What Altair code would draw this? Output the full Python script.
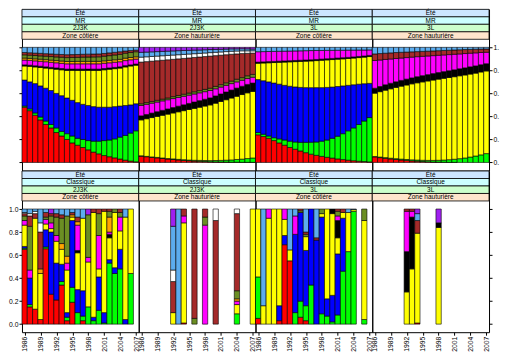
import altair as alt
import pandas as pd

YEARS = list(range(1986, 2008))
CATS = ["R", "G", "B", "Y", "K", "M", "O", "V", "N", "W", "L", "P"]
COLORS = {"R": "#FF0000", "G": "#00FF00", "B": "#0000FF", "Y": "#FFFF00",
          "K": "#000000", "M": "#FF00FF", "O": "#FFA500", "V": "#6B8E23",
          "N": "#A52A2A", "W": "#FFFFFF", "L": "#5CACEE", "P": "#A020F0"}

# ---- top row (MR): cumulative tops per category, one value per year 1986..2007
TOP_2J3K_COT = {
    "R": [.48,.45,.41,.37,.33,.30,.26,.23,.20,.17,.15,.13,.11,.09,.075,.06,.05,.04,.03,.02,.012,.006],
    "G": [.49,.465,.43,.395,.36,.33,.30,.27,.25,.23,.21,.20,.19,.185,.185,.19,.195,.205,.22,.235,.255,.275],
    "B": [.716,.70,.685,.665,.645,.625,.60,.58,.56,.54,.52,.505,.495,.485,.48,.48,.48,.485,.49,.495,.50,.51],
    "Y": [.838,.835,.83,.825,.82,.815,.81,.805,.80,.80,.80,.80,.80,.80,.80,.805,.81,.815,.82,.83,.838,.845],
    "K": [.848,.845,.84,.836,.831,.826,.821,.816,.811,.811,.811,.811,.811,.811,.811,.816,.821,.826,.831,.841,.848,.855],
    "M": [.89,.887,.883,.879,.875,.87,.866,.861,.857,.857,.857,.857,.857,.857,.857,.862,.866,.871,.875,.885,.892,.898],
    "O": [.907,.904,.90,.897,.893,.889,.885,.881,.877,.877,.878,.878,.878,.878,.878,.883,.887,.892,.896,.906,.912,.918],
    "V": [.935,.932,.929,.926,.923,.92,.917,.914,.911,.912,.913,.915,.916,.917,.918,.923,.928,.934,.939,.949,.955,.962],
    "N": [.955,.953,.950,.948,.945,.943,.940,.938,.936,.937,.938,.940,.941,.942,.943,.947,.952,.957,.962,.968,.972,.976],
    "L": [1.0]*22,
}
TOP_2J3K_HAU = {
    "R": [.055,.05,.045,.04,.035,.03,.026,.022,.018,.015,.012,.01,.008,.006,.005,.004,.003,.002,.002,.001,.001,.001],
    "G": [.058,.053,.048,.044,.039,.034,.031,.027,.024,.021,.019,.018,.017,.016,.017,.018,.02,.022,.026,.029,.034,.039],
    "Y": [.37,.38,.39,.40,.41,.42,.43,.44,.45,.46,.47,.48,.49,.50,.515,.53,.545,.56,.575,.59,.605,.617],
    "K": [.405,.417,.429,.441,.453,.465,.477,.489,.501,.513,.525,.537,.549,.561,.578,.595,.612,.629,.646,.662,.678,.69],
    "M": [.495,.505,.515,.525,.535,.545,.555,.565,.575,.585,.595,.605,.615,.625,.64,.655,.67,.685,.70,.714,.729,.74],
    "V": [.51,.52,.53,.54,.55,.56,.572,.582,.593,.603,.614,.624,.635,.645,.661,.676,.692,.707,.723,.737,.753,.765],
    "N": [.872,.876,.880,.884,.888,.892,.896,.900,.904,.908,.912,.916,.920,.924,.928,.932,.936,.940,.943,.946,.948,.95],
    "W": [.915,.918,.921,.924,.927,.93,.933,.936,.939,.942,.945,.948,.951,.954,.957,.96,.963,.966,.968,.97,.97,.97],
    "L": [.957,.959,.961,.963,.965,.967,.969,.971,.973,.974,.976,.977,.979,.981,.982,.983,.985,.987,.987,.988,.987,.985],
    "P": [1.0]*22,
}
TOP_3L_COT = {
    "R": [.24,.225,.21,.19,.17,.15,.13,.115,.10,.085,.072,.062,.053,.045,.038,.031,.025,.02,.015,.011,.008,.005],
    "G": [.26,.245,.23,.215,.205,.195,.185,.178,.175,.175,.176,.178,.185,.195,.21,.228,.25,.275,.30,.33,.36,.39],
    "B": [.72,.71,.70,.69,.68,.67,.662,.656,.652,.65,.65,.65,.65,.652,.655,.66,.665,.67,.675,.68,.684,.687],
    "Y": [.862,.864,.866,.868,.87,.872,.874,.876,.878,.88,.882,.885,.888,.891,.894,.897,.90,.903,.907,.911,.915,.92],
    "K": [.872,.874,.876,.878,.88,.882,.884,.886,.888,.89,.892,.895,.898,.901,.904,.907,.91,.913,.917,.921,.925,.93],
    "M": [.962,.963,.964,.965,.966,.967,.968,.969,.97,.971,.972,.973,.973,.974,.974,.975,.975,.976,.976,.977,.977,.978],
    "L": [1.0]*22,
}
TOP_3L_HAU = {
    "R": [.048,.042,.036,.031,.026,.022,.018,.014,.011,.008,.006,.004,.003,.002,.001,.001,0,0,0,0,0,0],
    "G": [.052,.047,.042,.037,.033,.029,.026,.023,.021,.019,.018,.018,.019,.021,.024,.028,.033,.039,.047,.056,.066,.077],
    "Y": [.602,.615,.628,.64,.652,.663,.673,.683,.692,.70,.708,.716,.724,.731,.738,.745,.753,.76,.768,.776,.786,.795],
    "K": [.645,.66,.675,.688,.701,.713,.724,.735,.745,.754,.763,.772,.781,.789,.797,.805,.814,.822,.831,.839,.849,.858],
    "M": [.886,.89,.895,.899,.903,.907,.911,.915,.919,.922,.925,.928,.931,.934,.937,.94,.943,.946,.949,.952,.955,.957],
    "N": [.943,.946,.949,.952,.955,.957,.959,.961,.963,.965,.967,.969,.971,.973,.975,.977,.979,.981,.982,.984,.985,.986],
    "L": [1.0]*22,
}

# ---- bottom row (Classique): per year, (category, cumulative top)
BOT_2J3K_COT = {
    1986: [("R",.65),("G",.66),("B",.675),("Y",.86),("M",.90),("V",.94),("N",.96),("W",.97),("L",1.0)],
    1987: [("R",.15),("G",.17),("B",.40),("M",.47),("V",.85),("N",.94),("W",.96),("L",1.0)],
    1988: [("R",.13),("Y",.92),("N",.96),("W",.98),("L",1.0)],
    1989: [("R",.04),("Y",.44),("O",.48),("N",.80),("W",.88),("L",1.0)],
    1990: [("R",.655),("G",.67),("B",.82),("Y",.87),("M",.91),("V",.93),("N",.97),("L",1.0)],
    1991: [("R",.26),("B",.80),("Y",.83),("M",.88),("V",.94),("N",.96),("P",1.0)],
    1992: [("R",.21),("B",.53),("Y",.72),("M",.77),("V",.93),("N",.96),("L",1.0)],
    1993: [("R",.34),("G",.37),("B",.52),("Y",.65),("O",.70),("V",.92),("N",.95),("L",1.0)],
    1994: [("R",.03),("G",.06),("B",.10),("Y",.47),("M",.53),("O",.59),("V",.94),("L",1.0)],
    1995: [("R",.19),("G",.32),("B",.90),("Y",.93),("O",.95),("N",.97),("L",1.0)],
    1996: [("G",.10),("B",.30),("Y",.62),("K",.64),("M",.86),("O",.89),("N",.93),("L",1.0)],
    1997: [("R",.03),("G",.07),("B",.29),("Y",.92),("L",1.0)],
    1998: [("G",.15),("Y",.54),("M",.58),("V",.95),("P",1.0)],
    1999: [("G",.03),("B",.06),("Y",.97),("N",1.0)],
    2000: [("G",.12),("B",.41),("Y",.48),("M",.77),("V",.96),("N",1.0)],
    2001: [("G",.01),("B",.10),("Y",.98),("N",1.0)],
    2002: [("G",.53),("B",.56),("Y",.75),("K",.78),("M",.80),("O",.93),("V",.98),("N",1.0)],
    2003: [("G",.44),("B",.49),("Y",.97),("V",1.0)],
    2004: [("G",.48),("B",.65),("Y",.81),("M",.93),("V",.97),("N",1.0)],
    2005: [("B",.04),("Y",.93),("L",1.0)],
    2006: [("G",.44),("Y",1.0)],
}
BOT_2J3K_HAU = {
    1992: [("Y",.10),("N",.37),("W",.47),("L",.85),("P",1.0)],
    1993: [("L",1.0)],
    1994: [("R",.01),("Y",.88),("M",.94),("N",1.0)],
    1996: [("V",.05),("N",1.0)],
    1998: [("M",.86),("V",.93),("N",1.0)],
    2000: [("N",.90),("W",1.0)],
    2004: [("G",.09),("Y",.17),("M",.20),("O",.22),("V",.29),("N",.96),("W",1.0)],
    2007: [("Y",1.0)],
}
BOT_3L_COT = {
    1986: [("R",.05),("G",.41),("Y",1.0)],
    1987: [("Y",.16),("L",1.0)],
    1988: [("Y",.92),("M",1.0)],
    1989: [("Y",1.0)],
    1990: [("R",.03),("B",.16),("Y",1.0)],
    1991: [("R",.69),("B",.77),("Y",.91),("M",1.0)],
    1992: [("R",.55),("Y",.645),("L",1.0)],
    1993: [("G",.10),("B",.78),("M",.94),("L",1.0)],
    1994: [("R",.06),("G",.20),("B",.97),("V",.985),("N",1.0)],
    1995: [("R",.03),("G",.16),("B",.64),("Y",.76),("V",.78),("N",.80),("L",1.0)],
    1996: [("G",.34),("B",1.0)],
    1997: [("B",.73),("N",.75),("L",1.0)],
    1998: [("G",.09),("B",.93),("Y",.96),("V",1.0)],
    1999: [("G",.07),("B",.22),("Y",1.0)],
    2000: [("G",.02),("B",.25),("Y",.96),("K",1.0)],
    2001: [("G",.08),("B",.61),("Y",.75),("K",.90),("M",.94),("V",.98),("N",1.0)],
    2002: [("G",.46),("B",.92),("Y",.97),("N",1.0)],
    2003: [("G",.63),("Y",.97),("L",1.0)],
    2004: [("G",.98),("Y",.995),("L",1.0)],
    2006: [("G",.04),("Y",.90),("V",1.0)],
}
BOT_3L_HAU = {
    1992: [("Y",.28),("K",.63),("M",.98),("N",1.0)],
    1993: [("Y",.48),("K",.93),("M",.98),("N",1.0)],
    1994: [("R",.01),("Y",.79),("N",.90),("L",.96),("P",1.0)],
    1998: [("Y",.84),("K",.88),("P",1.0)],
}

X_TICKS = [1986, 1989, 1992, 1995, 1998, 2001, 2004, 2007]
Y_TICKS = [0, 0.2, 0.4, 0.6, 0.8, 1.0]
STRIP_FILLS = ["#CCE6FF", "#CCFFFF", "#CCFFCC", "#FFE5CC"]

W = 117
SH = 30
H = 161.5
FONT = "Liberation Sans"
AFS = 6.8


def rows_from_cumulative(d):
    out = []
    for i, yr in enumerate(YEARS):
        prev = 0.0
        for c in CATS:
            if c in d:
                top = d[c][i]
                if top > prev:
                    out.append({"x0": yr - 0.5, "x1": yr + 0.5, "y0": prev, "y1": top, "fill": COLORS[c]})
                    prev = top
    return pd.DataFrame(out)


def rows_from_bars(d):
    out = []
    for yr, segs in d.items():
        prev = 0.0
        for c, top in segs:
            out.append({"x0": yr - 0.5, "x1": yr + 0.5, "y0": prev, "y1": top, "fill": COLORS[c]})
            prev = top
    return pd.DataFrame(out)


def panel(df, labels, xaxis, yaxis):
    sdf = pd.DataFrame({"lo": [0, 1, 2, 3], "hi": [1, 2, 3, 4], "mid": [0.5, 1.5, 2.5, 3.5],
                        "label": labels, "fill": STRIP_FILLS})
    sscale = alt.Scale(domain=[0, 4], range=[0, SH], nice=False, zero=False)
    rect = alt.Chart(sdf).mark_rect(stroke="black", strokeWidth=0.8).encode(
        x=alt.value(0), x2=alt.value(W),
        y=alt.Y("lo:Q", scale=sscale, axis=None), y2="hi",
        fill=alt.Fill("fill:N", scale=None))
    txt = alt.Chart(sdf).mark_text(fontSize=6.5, font=FONT, color="black", baseline="middle").encode(
        x=alt.value(W / 2), y=alt.Y("mid:Q", scale=sscale, axis=None), text="label:N")
    bars = alt.Chart(df).mark_rect(stroke="black", strokeWidth=0.6).encode(
        x=alt.X("x0:Q", scale=alt.Scale(domain=[1985.5, 2007.5], nice=False, zero=False), axis=xaxis),
        x2="x1",
        y=alt.Y("y0:Q", scale=alt.Scale(domain=[-0.07, 1.07], range=[H, SH], nice=False, zero=False),
                axis=yaxis),
        y2="y1",
        fill=alt.Fill("fill:N", scale=None),
    )
    return alt.layer(bars, rect, txt).resolve_scale(y="independent").properties(width=W, height=H)


def xax():
    return alt.Axis(values=X_TICKS, format="d", labelAngle=270, labelAlign="right",
                    labelBaseline="middle", tickSize=3, labelFontSize=AFS, labelFont=FONT,
                    labelColor="black", tickColor="black", domain=False, grid=False,
                    labelPadding=1, title=None, labelOverlap=False, labelFlush=False)


def yax(orient, labels, cut=False):
    kw = dict(orient=orient, values=Y_TICKS, format=".1f", tickSize=3, labelFontSize=AFS,
              labelFont=FONT, labelColor="black", tickColor="black", domain=False,
              grid=False, labelPadding=1, title=None, labels=labels, labelFlush=False)
    if cut:
        # the reference shows only the first two characters of the right-hand labels
        kw["labelExpr"] = "slice(format(datum.value, '.1f'), 0, 2)"
        kw["labelAlign"] = "left"
    return alt.Axis(**kw)


panels = [
    panel(rows_from_cumulative(TOP_2J3K_COT), ["Été", "MR", "2J3K", "Zone côtière"], None, yax("left", False)),
    panel(rows_from_cumulative(TOP_2J3K_HAU), ["Été", "MR", "2J3K", "Zone hauturière"], None, None),
    panel(rows_from_cumulative(TOP_3L_COT), ["Été", "MR", "3L", "Zone côtière"], None, None),
    panel(rows_from_cumulative(TOP_3L_HAU), ["Été", "MR", "3L", "Zone hauturière"], None, yax("right", True, cut=True)),
    panel(rows_from_bars(BOT_2J3K_COT), ["Été", "Classique", "2J3K", "Zone côtière"], xax(), yax("left", True)),
    panel(rows_from_bars(BOT_2J3K_HAU), ["Été", "Classique", "2J3K", "Zone hauturière"], xax(), None),
    panel(rows_from_bars(BOT_3L_COT), ["Été", "Classique", "3L", "Zone côtière"], xax(), None),
    panel(rows_from_bars(BOT_3L_HAU), ["Été", "Classique", "3L", "Zone hauturière"], xax(), yax("right", False)),
]

chart = alt.concat(*panels, columns=4, spacing=0, bounds="flush").properties(
    padding={"left": 0, "top": 0, "right": 0, "bottom": 0}
).configure_view(stroke="black", strokeWidth=1)

chart.save("out.html", embed_options={"renderer": "svg", "actions": False})
